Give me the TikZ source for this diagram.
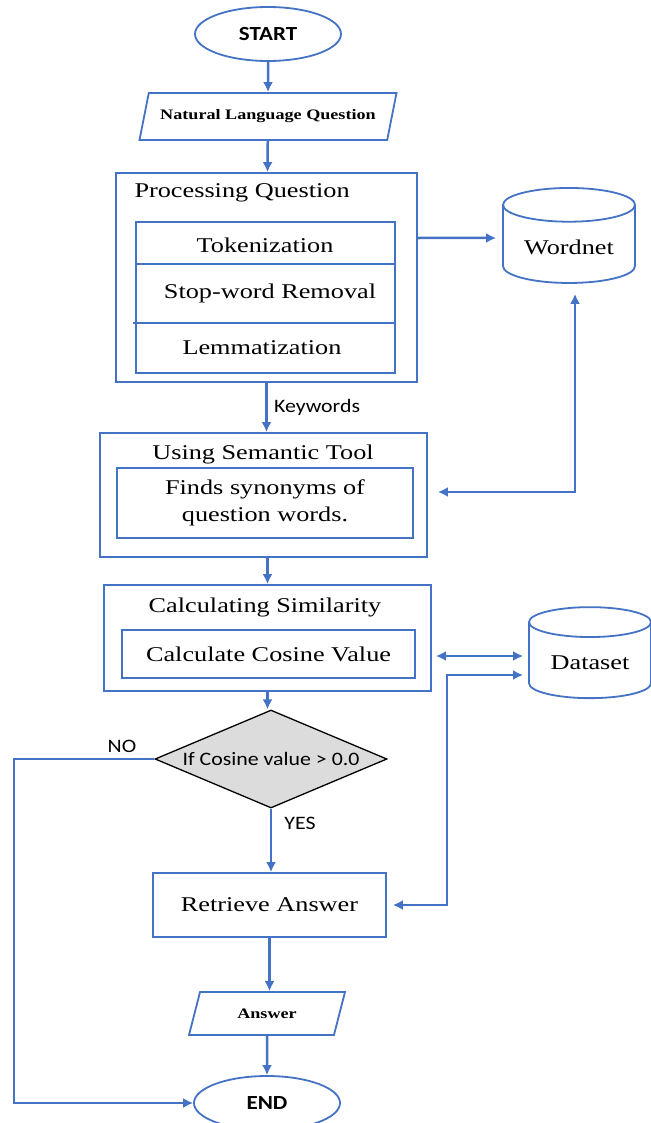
\documentclass[tikz,border=0pt]{standalone}
\usepackage{fontspec}
\setmainfont{Liberation Serif}[FakeStretch=1.25]
\newfontfamily\calibfont{Carlito}[FakeStretch=1.15]
\usetikzlibrary{positioning,arrows.meta}
\usetikzlibrary{shapes.geometric}
\definecolor{flowblue}{HTML}{4472C4}
\definecolor{decgray}{HTML}{DCDCDC}
\tikzstyle{term} = [ellipse, draw=flowblue, line width=1.8pt, minimum width=146pt, minimum height=54pt, font=\calibfont\bfseries\fontsize{20}{24}\selectfont]
\tikzstyle{io} = [trapezium, trapezium stretches body, draw=flowblue, line width=1.8pt, font=\bfseries\fontsize{14.5}{17}\selectfont]
\tikzstyle{box} = [rectangle, draw=flowblue, line width=1.8pt, font=\fontsize{21}{27}\selectfont, align=center]
\tikzstyle{txt} = [font=\fontsize{21}{27}\selectfont]
\tikzstyle{db} = [cylinder, shape border rotate=90, aspect=0.35, draw=flowblue, line width=1.8pt, fill=white, font=\fontsize{21}{27}\selectfont]
\tikzstyle{decide} = [diamond, draw=black, fill=decgray, line width=1.3pt, aspect=2.37, minimum width=232pt, minimum height=98pt, inner sep=0pt, font=\calibfont\fontsize{19}{22}\selectfont]
\tikzstyle{lbl} = [font=\calibfont\fontsize{19}{22}\selectfont]
\tikzstyle{flow} = [draw=flowblue, line width=2.5pt, >={Latex[length=10pt,width=10pt]}]
\tikzstyle{divider} = [draw=flowblue, line width=1.2pt]

\begin{document}
\begin{tikzpicture}[x=1pt,y=-1pt]
\useasboundingbox (0,0) rectangle (650,1123);

% start and input
\node[term] (start) at (268,34) {START};
\node[io, minimum width=257pt, minimum height=47pt, trapezium left angle=65, trapezium right angle=115] (nlq) at (268,116.5) {Natural Language Question};

% processing question
\node[box, minimum width=301pt, minimum height=209pt] (proc) at (266.5,277.5) {};
\node[txt, anchor=west] (proctitle) at (131,193) {Processing Question};
\node[box, minimum width=259pt, minimum height=151pt] (procin) at (265.5,297.5) {};
\draw[divider] (136,264) -- (395,264);
\draw[divider] (133,323) -- (395,323);
\node[txt] (tok) at (265,245) {Tokenization};
\node[txt] (swr) at (270,293) {Stop-word Removal};
\node[txt] (lem) at (262,348) {Lemmatization};

\node[db, minimum width=132pt, minimum height=95pt] (wordnet) at (569,247) {Wordnet};

% semantic tool
\node[box, minimum width=327pt, minimum height=124pt] (sem) at (263.5,495) {};
\node[txt] (semtitle) at (263,454) {Using Semantic Tool};
\node[box, minimum width=296pt, minimum height=70pt] (semin) at (265,503) {Finds synonyms of\\question words.};

% similarity
\node[box, minimum width=327pt, minimum height=106pt] (calc) at (267.5,638) {};
\node[txt] (calctitle) at (265,607) {Calculating Similarity};
\node[box, minimum width=293pt, minimum height=48pt] (calcin) at (268.5,654) {Calculate Cosine Value};

\node[db, minimum width=122pt, minimum height=91pt] (dataset) at (590,663) {Dataset};

% decision and output
\node[decide] (dec) at (271,759) {If Cosine value > 0.0};
\node[box, minimum width=233pt, minimum height=64pt] (ret) at (269.5,905) {Retrieve Answer};
\node[io, minimum width=156pt, minimum height=43pt, trapezium left angle=56, trapezium right angle=124] (ans) at (267,1013.5) {Answer};
\node[term] (finish) at (267,1103) {END};

\node[lbl] (yes) at (300,823) {YES};
\node[lbl] (no) at (122,746) {NO};
\coordinate (noleft) at (14,759);
\coordinate (dsjoin) at (447,675);

% connectors
\draw[flow,->] (start) -- (nlq);
\draw[flow,->] (nlq) -- (proc);
\draw[flow,->] ([yshift=9pt]proc.east |- wordnet) -- ([xshift=-6pt,yshift=9pt]wordnet.west);
\draw[flow,->] (proc.south) -- (proc.south |- sem.north) node[midway, right, lbl, xshift=3pt] (kw) {Keywords};
\draw[flow,<->] ([xshift=10pt,yshift=3pt]sem.east) -| ([xshift=6pt,yshift=-10pt]wordnet.south);
\draw[flow,->] (calc.north |- sem.south) -- (calc.north);
\draw[flow,<->] ([xshift=4pt,yshift=7pt]calc.east |- dataset.west) -- ([xshift=-5pt,yshift=7pt]dataset.west);
\draw[flow,->] (calc.south) -- (calc.south |- dec.north);
\draw[flow,->] (dec.south) -- (dec.south |- ret.north);
\draw[flow,->] (dec.west) -- (noleft) |- (finish.west);
\draw[flow,<->] ([xshift=6pt]ret.east) -| (dsjoin) -- ([xshift=-5pt]dataset.west |- dsjoin);
\draw[flow,->] (ret.south) -- (ret.south |- ans.north);
\draw[flow,->] (ans) -- (finish);

\end{tikzpicture}
\end{document}
